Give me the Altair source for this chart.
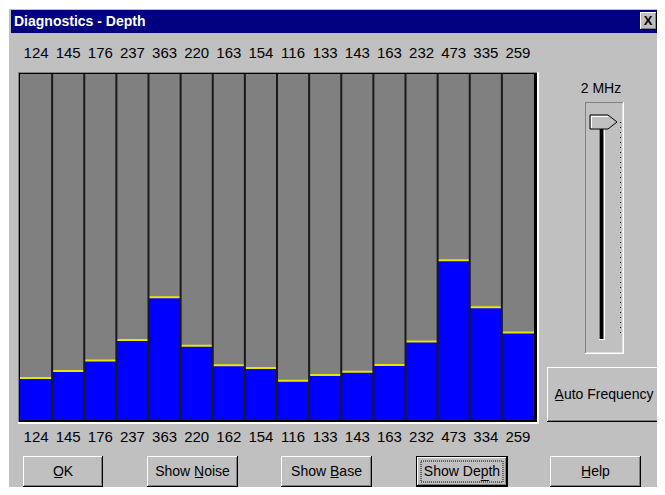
import altair as alt
import pandas as pd

# ---- data ----
top_labels = [124, 145, 176, 237, 363, 220, 163, 154, 116, 133, 143, 163, 232, 473, 335, 259]
bottom_labels = [124, 145, 176, 237, 363, 220, 162, 154, 116, 133, 143, 163, 232, 473, 334, 259]
depth = [124, 145, 176, 237, 363, 220, 162, 154, 116, 133, 143, 163, 232, 473, 334, 259]
full_scale = 1024
title_text = "Diagnostics - Depth"
freq_text = "2 MHz"
buttons = ["O\u0332K", "Show N\u0332oise", "Show B\u0332ase", "Show Dep\u0332th", "H\u0332elp"]
auto_text = "A\u0332uto Frequency"

n = len(depth)
FONT = "Liberation Sans, Arial, sans-serif"

# plot-area origin in page coordinates (page margin 8 + padding)
OX, OY = 20, 74
W, H = 514, 346
ONE = [{"k": 0}]

df = pd.DataFrame({"i": list(range(n)), "top": top_labels, "bottom": bottom_labels, "depth": depth})
base = alt.Chart(df).transform_calculate(
    i1="datum.i + 1", mid="datum.i + 0.5", full=str(full_scale), zero="0"
)
xs = alt.Scale(domain=[0, n], nice=False, zero=False)
ys = alt.Scale(domain=[0, full_scale], nice=False, zero=True)


def box(x1, y1, x2, y2, color):
    return alt.Chart(alt.Data(values=ONE)).mark_rect(color=color).encode(
        x=alt.value(x1 - OX), x2=alt.value(x2 - OX),
        y=alt.value(y1 - OY), y2=alt.value(y2 - OY))


def outline(x1, y1, x2, y2, color, dash):
    return alt.Chart(alt.Data(values=ONE)).mark_rect(
        fillOpacity=0, stroke=color, strokeWidth=1, strokeDash=dash).encode(
        x=alt.value(x1 - OX), x2=alt.value(x2 - OX),
        y=alt.value(y1 - OY), y2=alt.value(y2 - OY))


def label(x, y, s, size=14, weight="normal", color="#000000", align="center"):
    return alt.Chart(alt.Data(values=ONE)).mark_text(
        text=s, fontSize=size, fontWeight=weight, color=color, align=align,
        baseline="middle", font=FONT).encode(x=alt.value(x - OX), y=alt.value(y - OY))


def button(x1, y1, x2, y2, text, default=False, tx=None):
    L = []
    if default:
        L.append(box(x1, y1, x2, y2, "#000000"))
        x1 += 1; y1 += 1; x2 -= 1; y2 -= 1
    L.append(box(x1, y1, x2, y2, "#000000"))
    L.append(box(x1, y1, x2 - 1, y2 - 1, "#ffffff"))
    L.append(box(x1 + 1, y1 + 1, x2 - 1, y2 - 1, "#808080"))
    L.append(box(x1 + 1, y1 + 1, x2 - 2, y2 - 2, "#c0c0c0"))
    if default:
        L.append(outline(x1 + 4, y1 + 4, x2 - 4, y2 - 4, "#000000", [1, 1]))
    L.append(label(tx if tx is not None else (x1 + x2) / 2, (y1 + y2) / 2 + 0.5, text))
    return L


layers = []
# dialog frame + title bar
layers.append(box(8, 8, 670, 9, "#ffffff"))
layers.append(box(8, 8, 9, 500, "#ffffff"))
layers.append(box(11, 10, 670, 33, "#000080"))
layers.append(label(14, 21.5, title_text, size=14, weight="bold", color="#ffffff", align="left"))
layers.append(box(640, 12, 657, 30, "#000000"))
layers.append(box(640, 12, 656, 29, "#ffffff"))
layers.append(box(641, 13, 656, 29, "#808080"))
layers.append(box(641, 13, 655, 28, "#c0c0c0"))
layers.append(label(648, 21, "X", size=13, weight="bold"))

# sunken frame round the bars
layers.append(box(18, 72, 539, 424, "#ffffff"))
layers.append(box(18, 72, 537, 422, "#808080"))
layers.append(box(19, 73, 537, 422, "#000000"))

# bars through the scales
layers.append(base.mark_rect(color="#808080").encode(
    x=alt.X("i:Q", scale=xs, axis=None), x2="i1:Q",
    y=alt.Y("full:Q", scale=ys, axis=None), y2="zero:Q"))
layers.append(base.mark_rect(color="#0000ff").encode(
    x=alt.X("i:Q", scale=xs, axis=None), x2="i1:Q",
    y=alt.Y("depth:Q", scale=ys, axis=None), y2="zero:Q"))
layers.append(base.mark_rule(color="#e6e600", strokeWidth=2).encode(
    x=alt.X("i:Q", scale=xs, axis=None), x2="i1:Q",
    y=alt.Y("depth:Q", scale=ys, axis=None)))
layers.append(base.transform_filter("datum.i > 0").mark_rule(color="#1a1a1a", strokeWidth=2).encode(
    x=alt.X("i:Q", scale=xs, axis=None),
    y=alt.Y("full:Q", scale=ys, axis=None), y2="zero:Q"))

# value rows
layers.append(base.mark_text(fontSize=15, font=FONT, color="#000000", baseline="middle").encode(
    x=alt.X("mid:Q", scale=xs, axis=None), y=alt.value(53 - OY), text="top:Q"))
layers.append(base.mark_text(fontSize=15, font=FONT, color="#000000", baseline="middle").encode(
    x=alt.X("mid:Q", scale=xs, axis=None), y=alt.value(437 - OY), text="bottom:Q"))

# frequency slider
layers.append(label(601, 89, freq_text, size=14))
layers.append(box(585, 102, 624, 354, "#ffffff"))
layers.append(box(585, 102, 623, 353, "#808080"))
layers.append(box(586, 103, 623, 353, "#dfdfdf"))
layers.append(box(586, 103, 622, 352, "#c0c0c0"))
layers.append(box(599, 127, 605, 340, "#ffffff"))
layers.append(box(599, 127, 604, 339, "#808080"))
layers.append(box(600, 128, 603, 339, "#000000"))
layers.append(alt.Chart(alt.Data(values=ONE)).mark_rule(
    color="#000000", strokeWidth=1, strokeDash=[1, 4]).encode(
    x=alt.value(620.5 - OX), y=alt.value(122 - OY), y2=alt.value(336 - OY)))
layers.append(alt.Chart(alt.Data(values=ONE)).mark_point(
    shape="M-1,-0.52L0.33,-0.52L1,0L0.33,0.52L-1,0.52Z", size=729, filled=True,
    fill="#c0c0c0", stroke="#000000", strokeWidth=1, opacity=1).encode(
    x=alt.value(603.5 - OX), y=alt.value(122 - OY)))
layers.append(box(591, 116, 608, 117, "#ffffff"))
layers.append(box(591, 116, 592, 128, "#ffffff"))

# buttons
layers += button(547, 367, 670, 422, auto_text, tx=604)
layers += button(23, 456, 103, 487, buttons[0])
layers += button(147, 456, 238, 487, buttons[1])
layers += button(281, 456, 372, 487, buttons[2])
layers += button(416, 456, 508, 487, buttons[3], default=True)
layers += button(550, 456, 641, 487, buttons[4])

chart = alt.layer(*layers).properties(
    width=W, height=H,
    padding={"left": OX - 8, "top": OY - 8, "right": 649 - (OX - 8) - W, "bottom": 479 - (OY - 8) - H},
    autosize=alt.AutoSizeParams(type="none"),
).configure(background="#c0c0c0").configure_view(strokeWidth=0)

chart.save("out.html", embed_options={"renderer": "svg", "actions": False})
